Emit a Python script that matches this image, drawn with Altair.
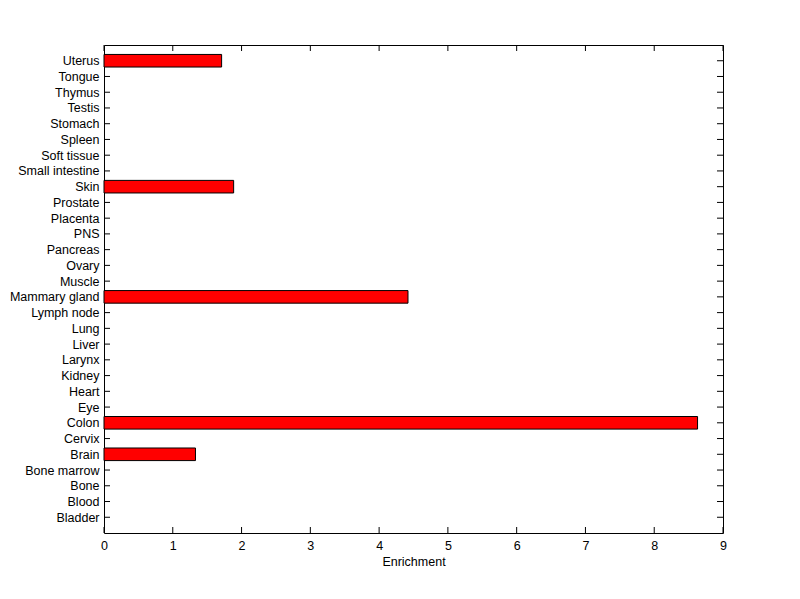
import json
import altair as alt
import pandas as pd

categories = ["Bladder", "Blood", "Bone", "Bone marrow", "Brain", "Cervix", "Colon", "Eye",
              "Heart", "Kidney", "Larynx", "Liver", "Lung", "Lymph node", "Mammary gland",
              "Muscle", "Ovary", "Pancreas", "PNS", "Placenta", "Prostate", "Skin",
              "Small intestine", "Soft tissue", "Spleen", "Stomach", "Testis", "Thymus",
              "Tongue", "Uterus"]
values = [0, 0, 0, 0, 1.33, 0, 8.63, 0,
          0, 0, 0, 0, 0, 0, 4.42,
          0, 0, 0, 0, 0, 0, 1.885,
          0, 0, 0, 0, 0, 0,
          0, 1.71]
x_ticks = [0, 1, 2, 3, 4, 5, 6, 7, 8, 9]

W, H = 619, 488

df = pd.DataFrame({"tissue": categories, "enrichment": values,
                   "idx": list(range(1, len(categories) + 1))})
df["lo"] = df["idx"] - 0.4
df["hi"] = df["idx"] + 0.4
xt = pd.DataFrame({"x": x_ticks})

label_arr = json.dumps([""] + categories)
font = "Liberation Sans"
FS = 12.5

xscale = alt.Scale(domain=[0, 9], nice=False, zero=False)
yscale = alt.Scale(domain=[0, 31], nice=False, zero=False)

yaxis = alt.Axis(values=list(range(1, 31)), title=None, ticks=False, grid=False,
                 domain=False, labelPadding=5, labelFontSize=FS, labelFont=font,
                 labelColor="black", labelOverlap=False, labelFlush=False,
                 labelExpr=f"{label_arr}[datum.value]")
xaxis = alt.Axis(values=x_ticks, title="Enrichment", ticks=False, grid=False,
                 domain=False, labelPadding=6, labelFontSize=FS, labelFont=font,
                 format="d", labelOverlap=False, labelFlush=False,
                 titleFont=font, titleFontSize=FS, titleFontWeight="normal",
                 titlePadding=4, labelColor="black", titleColor="black")

ytick_l = alt.Chart(df).mark_rule(color="black", strokeWidth=1).encode(
    y=alt.Y("idx:Q", scale=yscale, axis=yaxis), x=alt.value(0), x2=alt.value(6))
ytick_r = alt.Chart(df).mark_rule(color="black", strokeWidth=1).encode(
    y=alt.Y("idx:Q", scale=yscale, axis=yaxis), x=alt.value(W - 6), x2=alt.value(W))
xtick_b = alt.Chart(xt).mark_rule(color="black", strokeWidth=1).encode(
    x=alt.X("x:Q", scale=xscale, axis=xaxis), y=alt.value(H), y2=alt.value(H - 6))
xtick_t = alt.Chart(xt).mark_rule(color="black", strokeWidth=1).encode(
    x=alt.X("x:Q", scale=xscale, axis=xaxis), y=alt.value(0), y2=alt.value(6))

bars = alt.Chart(df).transform_filter("datum.enrichment > 0").mark_bar(
    color="#ff0000", stroke="black", strokeWidth=1
).encode(
    x=alt.X("enrichment:Q", scale=xscale, axis=xaxis),
    x2=alt.value(0),
    y=alt.Y("lo:Q", scale=yscale, axis=yaxis),
    y2="hi:Q",
)

chart = alt.layer(ytick_l, ytick_r, xtick_b, xtick_t, bars).properties(
    width=W, height=H,
    autosize=alt.AutoSizeParams(type="none"),
    padding={"left": 96, "top": 37, "right": 60, "bottom": 58},
    background="white",
).configure_view(stroke="black", strokeWidth=1)

chart.save("out.html", embed_options={"renderer": "svg", "actions": False})
